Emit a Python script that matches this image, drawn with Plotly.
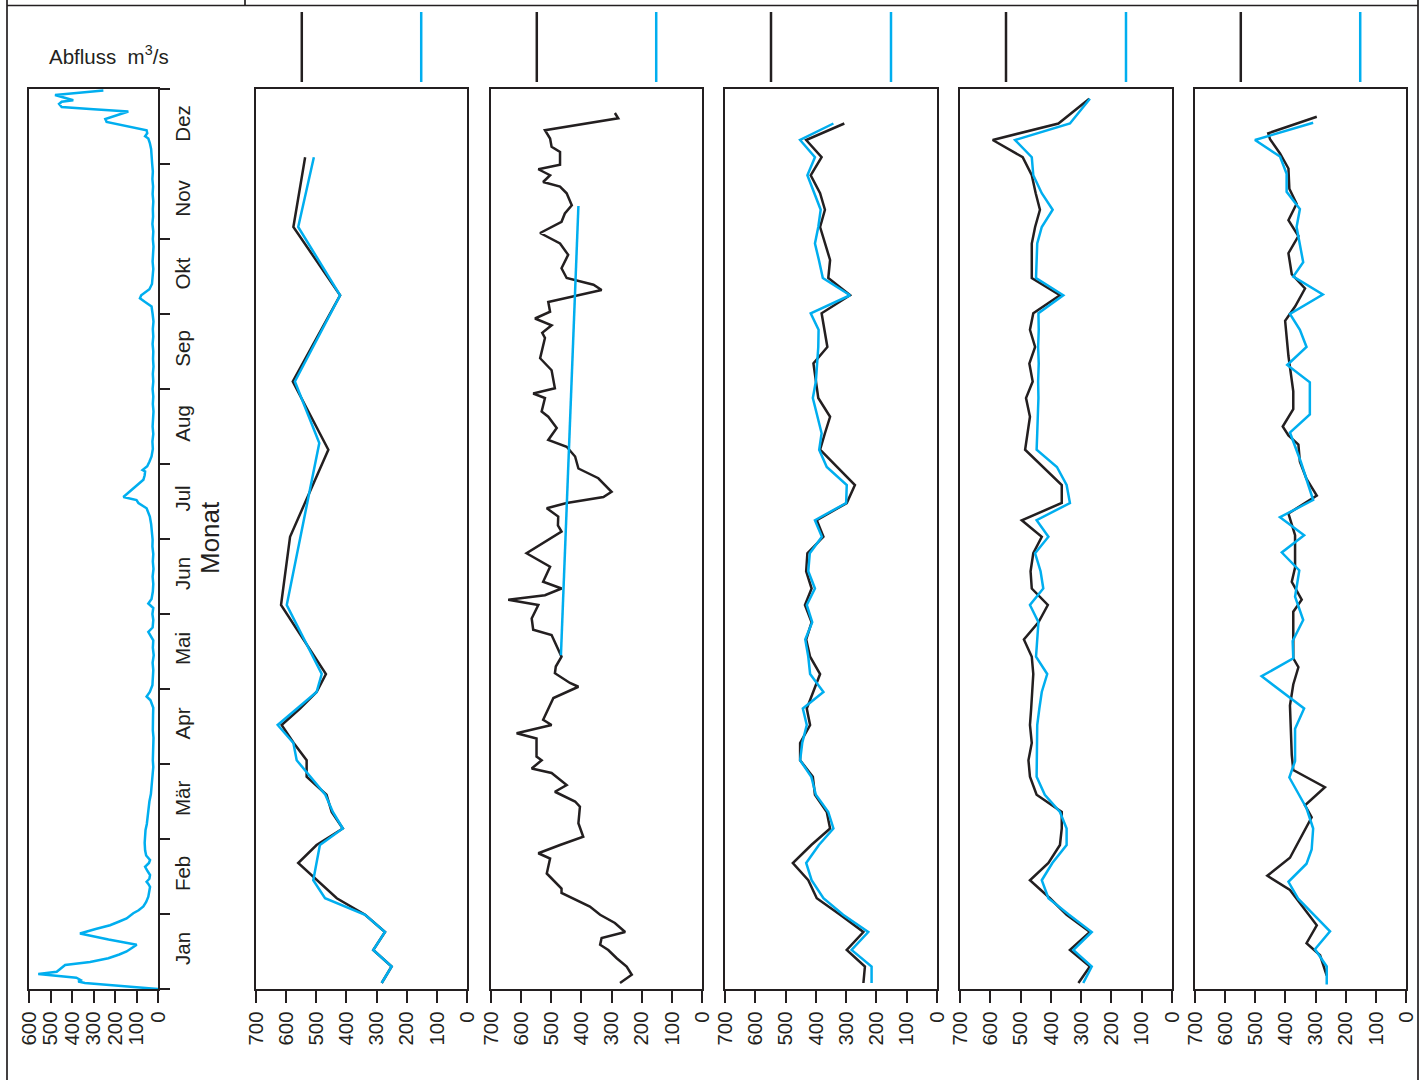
import plotly.graph_objects as go

# ---------------- data ----------------
MONTHS = ["Jan", "Feb", "Mär", "Apr", "Mai", "Jun", "Jul", "Aug", "Sep", "Okt", "Nov", "Dez"]

# panel 1: Abfluss m3/s (time in month units, Jan 1 = 0)
abfluss_t = [0.00, 0.03, 0.06, 0.08, 0.10, 0.12, 0.15, 0.20, 0.23, 0.27, 0.32, 0.36, 0.41, 0.46, 0.50,
             0.55, 0.59, 0.66, 0.74, 0.80, 0.85, 0.90, 0.94, 1.01, 1.05, 1.10, 1.16, 1.23, 1.30, 1.36,
             1.40, 1.43, 1.47, 1.52, 1.57, 1.63, 1.68, 1.72, 1.78, 1.85, 1.95, 2.05, 2.12, 2.20, 2.30,
             2.39, 2.50, 2.60, 2.70, 2.80, 2.90, 2.96, 3.05, 3.15, 3.25, 3.35, 3.45, 3.55, 3.65, 3.75,
             3.85, 3.90, 3.96, 4.05, 4.15, 4.25, 4.35, 4.45, 4.55, 4.65, 4.76, 4.82, 4.92, 5.00, 5.08,
             5.14, 5.20, 5.30, 5.40, 5.50, 5.60, 5.70, 5.80, 5.90, 5.99, 6.10, 6.20, 6.30, 6.41, 6.48,
             6.52, 6.56, 6.60, 6.63, 6.70, 6.79, 6.85, 6.90, 6.92, 6.97, 7.03, 7.10, 7.20, 7.30, 7.40,
             7.50, 7.60, 7.70, 7.80, 7.90, 8.00, 8.10, 8.20, 8.30, 8.40, 8.50, 8.60, 8.70, 8.80, 8.90,
             9.00, 9.10, 9.16, 9.21, 9.25, 9.28, 9.33, 9.40, 9.50, 9.60, 9.70, 9.80, 9.90, 10.00, 10.10,
             10.20, 10.30, 10.40, 10.50, 10.60, 10.70, 10.80, 10.90, 11.00, 11.10, 11.20, 11.28, 11.34,
             11.37, 11.41, 11.45, 11.50, 11.56, 11.60, 11.65, 11.70, 11.73, 11.76, 11.80, 11.83, 11.85,
             11.88, 11.92, 11.98]
abfluss_v = [0, 120, 250, 340, 371, 360, 380, 557, 471, 455, 432, 316, 231, 180, 146,
             120, 99, 230, 363, 290, 223, 180, 146, 115, 90, 68, 55, 45, 40, 37,
             45, 53, 40, 37, 48, 60, 42, 37, 55, 60, 62, 60, 58, 52, 48,
             45, 40, 33, 30, 26, 24, 22, 24, 22, 23, 21, 24, 22, 23, 22,
             35, 53, 38, 26, 24, 22, 25, 20, 24, 22, 45, 25, 22, 26, 22,
             45, 30, 24, 22, 25, 21, 24, 22, 26, 25, 28, 32, 38, 53, 91,
             100, 161, 145, 130, 100, 68, 62, 60, 72, 50, 40, 30, 24, 26, 22,
             25, 23, 21, 24, 22, 25, 22, 24, 21, 23, 22, 25, 22, 24, 21,
             25, 30, 60, 84, 78, 65, 40, 28, 24, 22, 25, 23, 21, 24, 22,
             26, 23, 24, 22, 25, 23, 26, 24, 27, 30, 32, 38, 45,
             60, 50, 53, 140, 239, 245, 190, 138, 300, 448, 460, 448, 394,
             430, 479, 254]

# panel 2
p2_black_t = [0.08, 0.30, 0.52, 0.76, 0.99, 1.21, 1.68, 1.92, 2.14, 2.36, 2.59, 2.83, 3.05, 3.28,
              3.52, 3.74, 3.96, 4.20, 5.12, 6.03, 7.19, 8.10, 9.25, 10.16, 11.09]
p2_black_v = [283, 250, 311, 272, 338, 432, 560, 499, 412, 449, 466, 532, 532, 575,
              615, 554, 499, 468, 617, 587, 460, 578, 421, 576, 537]
p2_blue_t = [0.08, 0.30, 0.52, 0.76, 0.99, 1.21, 1.45, 1.92, 2.14, 2.36, 2.59, 2.83, 3.05, 3.28,
             3.52, 3.96, 4.20, 5.12, 7.28, 8.10, 9.25, 10.16, 11.09]
p2_blue_v = [283, 250, 311, 272, 338, 471, 510, 488, 412, 445, 470, 520, 565, 576,
             628, 499, 482, 598, 490, 571, 421, 560, 508]

# panel 3
p3_black_t = [0.08, 0.19, 0.30, 0.41, 0.52, 0.59, 0.68, 0.76, 0.88, 0.99, 1.10, 1.28, 1.34, 1.54,
              1.74, 1.81, 1.92, 2.03, 2.21, 2.43, 2.50, 2.63, 2.72, 2.88, 2.94, 3.05, 3.10, 3.34,
              3.41, 3.52, 3.59, 3.88, 4.03, 4.08, 4.21, 4.30, 4.43, 4.72, 4.79, 4.94, 5.12, 5.19,
              5.25, 5.34, 5.43, 5.63, 5.81, 5.99, 6.10, 6.18, 6.30, 6.41, 6.48, 6.56, 6.63, 6.81,
              6.94, 7.10, 7.23, 7.32, 7.48, 7.63, 7.70, 7.88, 7.94, 8.01, 8.25, 8.41, 8.68, 8.75,
              8.85, 8.94, 9.03, 9.16, 9.32, 9.39, 9.48, 9.61, 9.79, 9.94, 10.08, 10.23, 10.34, 10.45,
              10.61, 10.70, 10.76, 10.85, 10.93, 10.99, 11.16, 11.23, 11.34, 11.45, 11.61, 11.68]
p3_black_v = [272, 233, 250, 283, 311, 338, 333, 255, 289, 338, 372, 466, 466, 515,
              504, 543, 471, 394, 410, 405, 421, 488, 449, 499, 565, 532, 549, 549,
              615, 499, 527, 493, 410, 438, 488, 485, 466, 499, 560, 565, 543, 643,
              521, 466, 527, 504, 582, 510, 466, 478, 477, 515, 449, 327, 300, 344,
              410, 421, 449, 510, 482, 510, 532, 521, 560, 488, 499, 537, 521, 530,
              499, 554, 504, 510, 333, 360, 449, 466, 444, 471, 537, 466, 455, 432,
              449, 471, 527, 504, 543, 471, 471, 499, 504, 521, 278, 289]
p3_blue_t = [4.45, 10.44]
p3_blue_v = [468, 410]

# panels 4 and 5: weekly values
weeks = [0.08, 0.30, 0.52, 0.76, 0.99, 1.21, 1.45, 1.68, 1.92, 2.14, 2.36, 2.59, 2.83, 3.05, 3.28,
         3.52, 3.74, 3.96, 4.20, 4.43, 4.66, 4.89, 5.12, 5.34, 5.57, 5.81, 6.03, 6.25, 6.48, 6.72,
         6.96, 7.19, 7.41, 7.63, 7.88, 8.10, 8.34, 8.56, 8.79, 9.01, 9.25, 9.48, 9.72, 9.94, 10.16,
         10.39, 10.61, 10.85, 11.09, 11.32, 11.54, 11.87]
p4_black = [243, 238, 298, 243, 320, 397, 425, 476, 415, 353, 364, 403, 410, 452, 452,
            419, 430, 408, 386, 419, 432, 414, 436, 414, 432, 428, 375, 397, 298, 271,
            331, 386, 370, 353, 392, 400, 408, 362, 372, 381, 287, 359, 353, 370, 386,
            370, 386, 417, 381, 432, 306, None]
p4_blue = [216, 216, 282, 227, 310, 375, 414, 432, 390, 342, 359, 400, 415, 452, 445,
           430, 443, 375, 419, 425, 435, 412, 430, 403, 425, 420, 380, 403, 300, 298,
           364, 389, 381, 395, 410, 400, 395, 392, 391, 417, 287, 377, 390, 403, 392,
           384, 405, 428, 403, 452, 342, None]
p5_black = [309, 271, 337, 271, 348, 403, 469, 408, 370, 364, 364, 447, 469, 474, 463,
            469, 465, 462, 458, 463, 489, 441, 410, 463, 467, 458, 430, 496, 364, 364,
            425, 485, 477, 469, 482, 460, 471, 452, 469, 458, 370, 463, 463, 463, 452,
            436, 450, 463, 493, 592, 375, 273]
p5_blue = [293, 265, 326, 265, 340, 408, 430, 395, 348, 348, 370, 420, 447, 447, 447,
           445, 438, 430, 412, 449, 445, 441, 469, 425, 434, 452, 408, 447, 337, 348,
           380, 447, 445, 443, 441, 442, 440, 442, 440, 441, 359, 449, 447, 445, 430,
           394, 430, 458, 463, 518, 337, 271]

# panel 6
p6_black_t = [0.18, 0.45, 0.61, 0.85, 1.32, 1.51, 1.75, 2.29, 2.45, 2.69, 2.92, 3.12, 3.78, 4.06,
              4.29, 4.41, 5.03, 5.19, 5.43, 5.62, 6.05, 6.34, 6.58, 6.80, 7.03, 7.26, 7.38, 7.50,
              7.73, 7.97, 8.44, 8.91, 9.10, 9.34, 9.53, 9.81, 10.04, 10.25, 10.47, 10.67, 10.94,
              11.14, 11.33, 11.41, 11.63]
p6_black_v = [263, 285, 330, 296, 385, 460, 385, 313, 335, 269, 374, 379, 385, 374,
              357, 374, 374, 346, 379, 368, 368, 390, 296, 330, 352, 357, 390, 409,
              374, 374, 390, 401, 368, 335, 379, 390, 357, 390, 363, 387, 390,
              418, 451, 457, 296]
p6_blue_t = [0.06, 0.30, 0.53, 0.77, 1.20, 1.43, 1.67, 1.86, 2.14, 2.41, 2.82, 3.04, 3.47, 3.74,
             4.17, 4.41, 4.64, 4.92, 5.23, 5.58, 5.82, 6.05, 6.29, 6.52, 7.03, 7.42, 7.66, 8.09,
             8.32, 8.56, 8.79, 9.00, 9.26, 9.50, 9.69, 10.16, 10.40, 10.63, 10.87, 11.10, 11.32,
             11.55]
p6_blue_v = [263, 263, 302, 252, 357, 390, 330, 313, 308, 330, 387, 368, 368, 338,
             479, 374, 376, 341, 368, 354, 412, 338, 418, 308, 349, 385, 319, 319,
             394, 330, 352, 385, 276, 374, 341, 363, 352, 396, 396, 418, 501,
             308]

# ---------------- figure ----------------
W, H = 1424, 1080
BLACK = "#231f20"
BLUE = "#00aeef"
FONT = "Liberation Sans, Arial, Helvetica, sans-serif"
FS = 20.5
LW = 2.5

fig = go.Figure()


def add_line(values, times, color, k):
    fig.add_trace(go.Scatter(
        x=values, y=times, mode="lines",
        line=dict(color=color, width=LW),
        xaxis="x" if k == 1 else f"x{k}",
        yaxis="y" if k == 1 else f"y{k}",
        connectgaps=True, showlegend=False, hoverinfo="skip"))


add_line(abfluss_v, abfluss_t, BLUE, 1)
add_line(p2_black_v, p2_black_t, BLACK, 2)
add_line(p2_blue_v, p2_blue_t, BLUE, 2)
add_line(p3_black_v, p3_black_t, BLACK, 3)
add_line(p3_blue_v, p3_blue_t, BLUE, 3)
add_line(p4_black, weeks, BLACK, 4)
add_line(p4_blue, weeks, BLUE, 4)
add_line(p5_black, weeks, BLACK, 5)
add_line(p5_blue, weeks, BLUE, 5)
add_line(p6_black_v, p6_black_t, BLACK, 6)
add_line(p6_blue_v, p6_blue_t, BLUE, 6)

panels_px = [(29, 158), (256, 467), (491, 702), (725, 937), (960, 1172), (1195, 1406)]
y_dom = [1 - 989 / H, 1 - 89 / H]

layout = dict(
    width=W, height=H, autosize=False,
    margin=dict(l=0, r=0, t=0, b=0, autoexpand=False),
    paper_bgcolor="white", plot_bgcolor="white",
    font=dict(family=FONT, color=BLACK, size=FS),
    showlegend=False,
)

shapes = []
for i, (l, r) in enumerate(panels_px):
    k = i + 1
    xname = "xaxis" if k == 1 else f"xaxis{k}"
    yname = "yaxis" if k == 1 else f"yaxis{k}"
    xmax = 600 if k == 1 else 700
    layout[xname] = dict(
        domain=[l / W, r / W], range=[xmax, 0],
        anchor="y" if k == 1 else f"y{k}",
        tickmode="array", tickvals=list(range(0, xmax + 1, 100)),
        ticks="outside", ticklen=12, tickwidth=2.2, tickcolor=BLACK,
        tickangle=-90, tickfont=dict(size=FS, color=BLACK, family=FONT),
        showline=True, linewidth=2.4, linecolor=BLACK, mirror=True,
        showgrid=False, zeroline=False, fixedrange=True, automargin=False)
    ya = dict(
        domain=y_dom, range=[0, 12],
        anchor="x" if k == 1 else f"x{k}",
        showline=True, linewidth=2.4, linecolor=BLACK, mirror=True,
        showgrid=False, zeroline=False, fixedrange=True, automargin=False)
    if k == 1:
        ya.update(side="right", tickmode="array",
                  tickvals=[m + 0.5 for m in range(12)], ticktext=MONTHS,
                  ticks="", tickangle=-90, ticklabelstandoff=5,
                  tickfont=dict(size=FS, color=BLACK, family=FONT),
                  minor=dict(tickmode="array", tickvals=list(range(13)), ticks="outside",
                             ticklen=10, tickwidth=2.2, tickcolor=BLACK, showgrid=False))
    else:
        ya.update(showticklabels=False, ticks="")
    layout[yname] = ya

    if k > 1:
        xref = f"x{k} domain"
        for fx, col in ((0.217, BLACK), (0.783, BLUE)):
            shapes.append(dict(type="line", xref=xref, yref="paper",
                               x0=fx, x1=fx, y0=1 - 12 / H, y1=1 - 82 / H,
                               line=dict(color=col, width=LW)))


# outer frame lines (pixel positions converted to paper coords)
def px_line(x0, y0, x1, y1, w=1.7):
    shapes.append(dict(type="line", xref="paper", yref="paper",
                       x0=x0 / W, x1=x1 / W, y0=1 - y0 / H, y1=1 - y1 / H,
                       line=dict(color=BLACK, width=w)))


px_line(7, 0, 7, 1080)
px_line(7, 5.5, 1418, 5.5)
px_line(1418, 0, 1418, 1080)
px_line(245, 0, 245, 5.5)

layout["shapes"] = shapes
layout["annotations"] = [
    dict(text="Abfluss  m<sup>3</sup>/s", xref="paper", yref="paper",
         x=47 / W, y=1 - 55 / H, xanchor="left", yanchor="middle",
         showarrow=False, font=dict(size=FS, color=BLACK, family=FONT)),
    dict(text="Monat", xref="paper", yref="paper",
         x=210 / W, y=1 - 538 / H, xanchor="center", yanchor="middle",
         textangle=-90, showarrow=False, font=dict(size=26, color=BLACK, family=FONT)),
]

fig.update_layout(**layout)
fig.write_html(
    "out.html",
    config={"displayModeBar": False},
    post_script="document.body.style.margin='0';document.body.style.overflow='hidden';",
)
